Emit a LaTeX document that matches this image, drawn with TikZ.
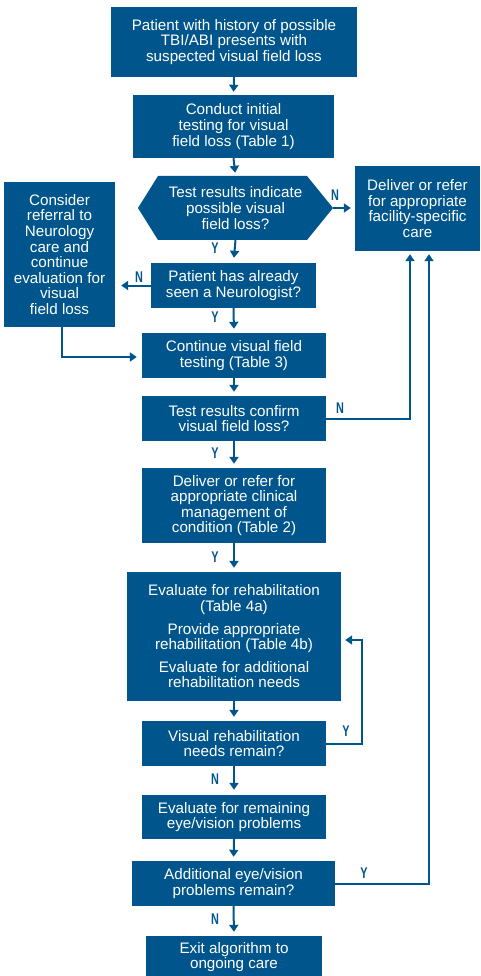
\documentclass[tikz,border=0pt]{standalone}
\usepackage{fontspec}
\setmainfont{Liberation Sans}
\usetikzlibrary{arrows.meta,calc}
\definecolor{vablue}{RGB}{0,86,140}
\newcommand{\ynlab}[1]{\scalebox{0.7}[1]{\bfseries #1}}
\begin{document}
\begin{tikzpicture}[x=1pt,y=-1pt,
  box/.style={fill=vablue,text=white,align=center,inner sep=0pt,
    font=\fontsize{15.2}{15.6}\selectfont},
  conn/.style={draw=vablue,line width=2pt,shorten >=4pt,
    -{Triangle[width=9pt,length=7pt]}},
  yn/.style={text=vablue,inner sep=0pt,font=\fontsize{15.5}{15.5}\selectfont}]
\useasboundingbox (0,0) rectangle (480,976);

% hexagon shape
\fill[vablue] (138,208) -- (158,176) -- (307,176) -- (333,208) -- (307,240) -- (158,240) -- cycle;

\node[box,minimum width=246pt,minimum height=70pt] (b1) at (234,42)
  {Patient with history of possible\\TBI/ABI presents with\\suspected visual field loss};
\node[box,minimum width=201pt,minimum height=63pt] (b2) at (233.5,126.5)
  {Conduct initial\\testing for visual\\field loss (Table 1)};
\node[box,fill=none,minimum width=195pt,minimum height=64pt] (hex) at (235.5,208)
  {Test results indicate\\possible visual\\field loss?};
\node[box,minimum width=125pt,minimum height=85pt] (R) at (417.5,208.5)
  {Deliver or refer\\for appropriate\\facility-specific\\care};
\node[box,minimum width=111pt,minimum height=145pt] (L) at (59.5,254.5)
  {Consider\\referral to\\Neurology\\care and\\continue\\evaluation for\\visual\\field loss};
\node[box,minimum width=165pt,minimum height=45pt] (b3) at (233.5,285.5)
  {Patient has already\\seen a Neurologist?};
\node[box,minimum width=184pt,minimum height=45pt] (b4) at (234,355.5)
  {Continue visual field\\testing (Table 3)};
\node[box,minimum width=184pt,minimum height=45pt] (b5) at (234,418.5)
  {Test results confirm\\visual field loss?};
\node[box,minimum width=184pt,minimum height=75pt] (b6) at (234,505.5)
  {Deliver or refer for\\appropriate clinical\\management of\\condition (Table 2)};
\node[box,minimum width=214pt,minimum height=129pt] (b7) at (234,636.5)
  {Evaluate for rehabilitation\\(Table 4a)\\[7pt]Provide appropriate\\rehabilitation (Table 4b)\\[7pt]Evaluate for additional\\rehabilitation needs};
\node[box,minimum width=184pt,minimum height=45pt] (b8) at (234,743.5)
  {Visual rehabilitation\\needs remain?};
\node[box,minimum width=184pt,minimum height=44pt] (b9) at (234,817)
  {Evaluate for remaining\\eye/vision problems};
\node[box,minimum width=203pt,minimum height=45pt] (b10) at (233.5,883.5)
  {Additional eye/vision\\problems remain?};
\node[box,minimum width=176pt,minimum height=42pt] (b11) at (234,957)
  {Exit algorithm to\\ongoing care};

% connectors
\draw[conn,shorten >=3pt] (b1.south) -- (b2.north);
\draw[conn,shorten >=3pt] (b2.south) -- (hex.north);
\draw[conn,shorten >=5pt] (hex.south) -- (b3.north);
\draw[conn] (hex.east) -- (R.west|-hex.east);
\draw[conn,shorten >=6pt] (b3.west) -- (b3.west-|L.east);
\draw[conn] (b3.south) -- (b4.north);
\draw[conn,shorten >=5pt] ([xshift=2.5pt]L.south) |- ([yshift=-1.5pt]b4.west);
\draw[conn] (b4.south) -- (b5.north);
\draw[conn,shorten >=3pt] (b5.east) -| ([xshift=-7.5pt]R.south);
\draw[conn] (b5.south) -- (b6.north);
\draw[conn] (b6.south) -- (b7.north);
\draw[conn] (b7.south) -- (b8.north);
\draw[conn] (b8.east) -- ++(36,0) |- ([yshift=-3.5pt]b7.east);
\draw[conn,shorten >=5pt] (b8.south) -- (b9.north);
\draw[conn] (b9.south) -- (b10.north);
\draw[conn,shorten >=3pt] (b10.east) -| ([xshift=11.5pt]R.south);
\draw[conn] (b10.south) -- (b11.north);

% Y/N labels
\node[yn] (l1) at (335,195) {\ynlab{N}};
\node[yn] (l2) at (215,248) {\ynlab{Y}};
\node[yn] (l3) at (139,277) {\ynlab{N}};
\node[yn] (l4) at (215,317) {\ynlab{Y}};
\node[yn] (l5) at (340,408) {\ynlab{N}};
\node[yn] (l6) at (215,453) {\ynlab{Y}};
\node[yn] (l7) at (215,557) {\ynlab{Y}};
\node[yn] (l8) at (346,731) {\ynlab{Y}};
\node[yn] (l9) at (215,779) {\ynlab{N}};
\node[yn] (l10) at (364,873) {\ynlab{Y}};
\node[yn] (l11) at (215,919) {\ynlab{N}};
\end{tikzpicture}
\end{document}
